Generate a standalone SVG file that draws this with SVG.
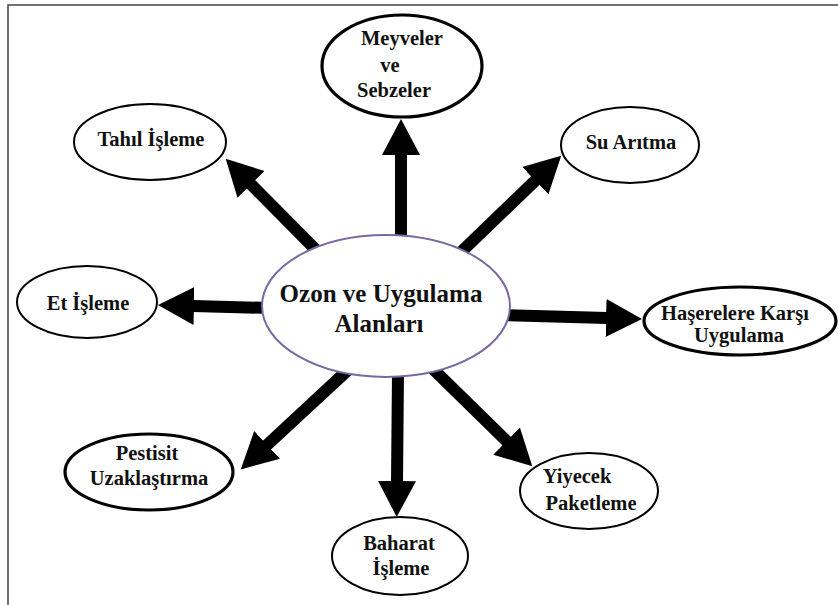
<svg xmlns="http://www.w3.org/2000/svg" width="838" height="605" viewBox="0 0 838 605">
<defs>
<style>
.frame{fill:none;stroke:#444;stroke-width:1.5}
.node{fill:#fff;stroke:#000;stroke-width:2}
.thick{stroke-width:3.2}
.center{fill:#fff;stroke:#7a68a0;stroke-width:2}
.t{font-family:"Liberation Serif","Times New Roman",serif;font-weight:bold;font-size:20.5px;fill:#111;text-anchor:middle}
.tc{font-size:25px}
.conn{stroke:#000;stroke-width:12;fill:none;marker-end:url(#ah)}
</style>
<marker id="ah" markerUnits="userSpaceOnUse" markerWidth="40" markerHeight="40" viewBox="0 -20 40 40" refX="1" refY="0" orient="auto">
<path d="M0,-19 L36,0 L0,19 Z" fill="#000"/>
</marker>
</defs>
<rect x="0" y="0" width="838" height="605" fill="#fff"/>
<rect class="frame" x="8" y="5" width="845" height="615"/>
<g id="connectors">
<line class="conn" x1="401" y1="240" x2="401" y2="154"/>
<line class="conn" x1="318" y1="252" x2="250.3" y2="183.6"/>
<line class="conn" x1="460" y1="253" x2="536" y2="179.9"/>
<line class="conn" x1="270" y1="308" x2="193" y2="306"/>
<line class="conn" x1="500" y1="315" x2="607" y2="318"/>
<line class="conn" x1="432" y1="368" x2="507.3" y2="441.8"/>
<line class="conn" x1="398" y1="372" x2="397" y2="482"/>
<line class="conn" x1="349" y1="369" x2="266.4" y2="445.6"/>
</g>
<g id="center">
<ellipse class="center" cx="386" cy="306" rx="124" ry="71"/>
<text class="t tc" x="381" y="302">Ozon ve Uygulama</text>
<text class="t tc" x="379" y="332">Alanları</text>
</g>
<g id="meyveler">
<ellipse class="node thick" cx="402" cy="66" rx="80" ry="51"/>
<text class="t" x="402" y="45" font-size="21.5">Meyveler</text>
<text class="t" x="390" y="72" font-size="21.5">ve</text>
<text class="t" x="394" y="97" font-size="21.5">Sebzeler</text>
</g>
<g id="tahil">
<ellipse class="node" cx="150" cy="142" rx="76" ry="38"/>
<text class="t" x="151" y="146">Tahıl İşleme</text>
</g>
<g id="su">
<ellipse class="node" cx="630" cy="145" rx="69" ry="38"/>
<text class="t" x="631" y="149">Su Arıtma</text>
</g>
<g id="et">
<ellipse class="node" cx="87" cy="302" rx="70" ry="36"/>
<text class="t" x="88" y="310">Et İşleme</text>
</g>
<g id="haserelere">
<ellipse class="node thick" cx="740" cy="321" rx="96" ry="34"/>
<text class="t" x="735" y="320">Haşerelere Karşı</text>
<text class="t" x="739" y="342">Uygulama</text>
</g>
<g id="pestisit">
<ellipse class="node thick" cx="149" cy="472" rx="84" ry="38"/>
<text class="t" x="147" y="460">Pestisit</text>
<text class="t" x="149" y="485">Uzaklaştırma</text>
</g>
<g id="baharat">
<ellipse class="node" cx="400" cy="556" rx="68" ry="39"/>
<text class="t" x="399" y="550">Baharat</text>
<text class="t" x="401" y="575">İşleme</text>
</g>
<g id="yiyecek">
<ellipse class="node" cx="589" cy="491" rx="69" ry="38"/>
<text class="t" x="577" y="483">Yiyecek</text>
<text class="t" x="591" y="510">Paketleme</text>
</g>
</svg>
